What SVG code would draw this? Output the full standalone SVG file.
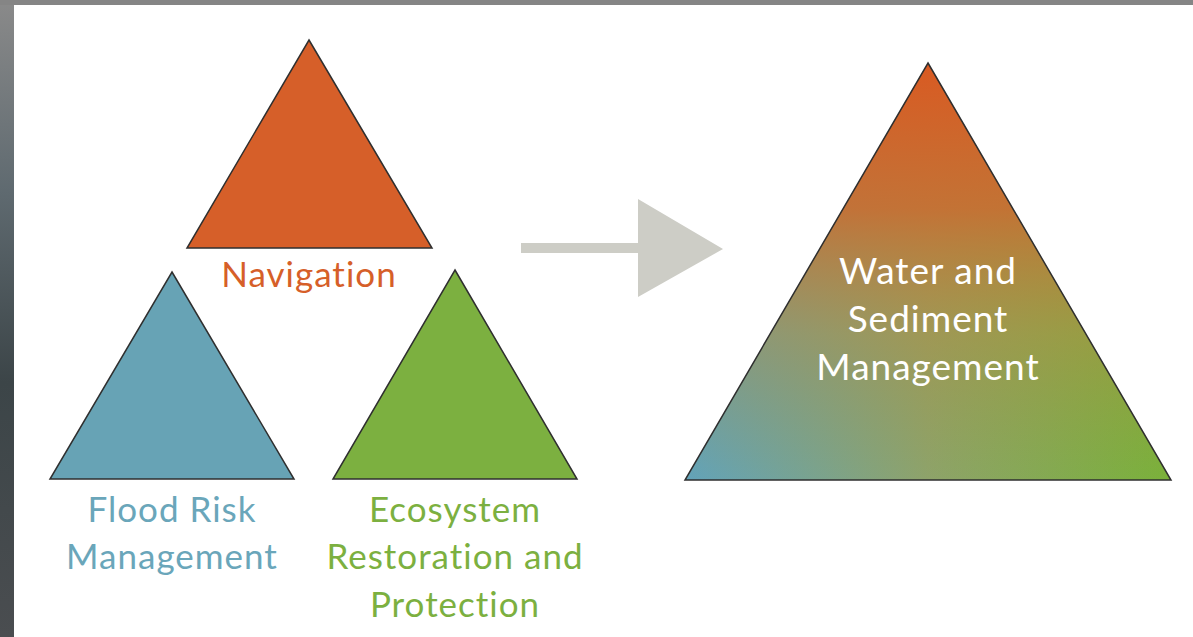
<svg xmlns="http://www.w3.org/2000/svg" width="1193" height="637" viewBox="0 0 1193 637">
<defs>
<linearGradient id="edge" x1="0" y1="0" x2="0" y2="1">
<stop offset="0" stop-color="#8a8a8a"/>
<stop offset="0.3" stop-color="#5f6a70"/>
<stop offset="0.6" stop-color="#3c4548"/>
<stop offset="1" stop-color="#4a4d50"/>
</linearGradient>
<linearGradient id="bg" x1="685" y1="0" x2="1171" y2="0" gradientUnits="userSpaceOnUse">
<stop offset="0" stop-color="#62a3ba"/>
<stop offset="0.5" stop-color="#8ea36a"/>
<stop offset="1" stop-color="#7ab13a"/>
</linearGradient>
<linearGradient id="top" x1="0" y1="63" x2="0" y2="480" gradientUnits="userSpaceOnUse">
<stop offset="0" stop-color="#d95a22" stop-opacity="1"/>
<stop offset="0.35" stop-color="#c96d30" stop-opacity="0.9"/>
<stop offset="0.65" stop-color="#b58a3c" stop-opacity="0.45"/>
<stop offset="1" stop-color="#a0903c" stop-opacity="0"/>
</linearGradient>
</defs>
<style>
.tri{stroke:#2f2f2f;stroke-width:1.5;stroke-linejoin:miter}
.lbl{font-family:Lato,"Liberation Sans",sans-serif;font-size:35px;letter-spacing:1px;text-anchor:middle}
.big{font-size:37px}
</style>
<rect x="0" y="0" width="1193" height="637" fill="#ffffff"/>
<rect x="0" y="0" width="14" height="637" fill="url(#edge)"/>
<rect x="0" y="0" width="1193" height="5" fill="#858585"/>

<g id="navigation">
<polygon class="tri" points="309,40 432,248 187,248" fill="#d65f29"/>
<text class="lbl" x="309" y="287" fill="#d65f29">Navigation</text>
</g>
<g id="flood-risk">
<polygon class="tri" points="172,272 294,479 50,479" fill="#67a3b5"/>
<text class="lbl" x="172" y="522" fill="#6aa6ba">Flood Risk</text>
<text class="lbl" x="172" y="569" fill="#6aa6ba">Management</text>
</g>
<g id="ecosystem">
<polygon class="tri" points="455,270 577,479 333,479" fill="#7cb040"/>
<text class="lbl" x="455" y="522" fill="#7cb040">Ecosystem</text>
<text class="lbl" x="455" y="569" fill="#7cb040">Restoration and</text>
<text class="lbl" x="455" y="617" fill="#7cb040">Protection</text>
</g>
<g id="connectors">
<polygon points="521,243 638,243 638,199 723,249 638,297 638,253 521,253" fill="#cdcdc6"/>
</g>
<g id="water-sediment">
<polygon points="928,63 1171,480 685,480" fill="url(#bg)"/>
<polygon class="tri" points="928,63 1171,480 685,480" fill="url(#top)"/>
<text class="lbl big" x="928" y="284" fill="#ffffff">Water and</text>
<text class="lbl big" x="928" y="332" fill="#ffffff">Sediment</text>
<text class="lbl big" x="928" y="380" fill="#ffffff">Management</text>
</g>
</svg>
